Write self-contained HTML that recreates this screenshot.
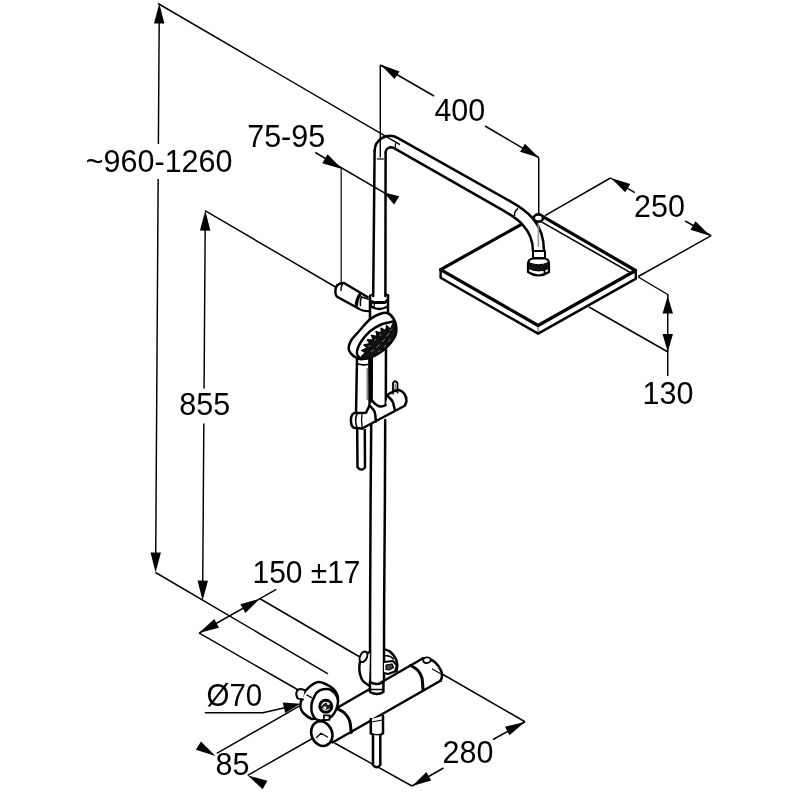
<!DOCTYPE html>
<html><head><meta charset="utf-8"><style>
html,body{margin:0;padding:0;background:#fff;width:800px;height:800px;overflow:hidden}
svg{display:block;will-change:transform}
text{font-family:"Liberation Sans",sans-serif;fill:#000}
</style></head><body>
<svg width="800" height="800" viewBox="0 0 800 800">
<rect width="800" height="800" fill="#fff"/>
<line x1="159.1927065026362" y1="20" x2="158.38637961335678" y2="144" stroke="#000" stroke-width="1.45" />
<line x1="158.15878734622146" y1="179" x2="155.71379613356766" y2="555" stroke="#000" stroke-width="1.45" />
<path d="M159.30,3.50 L164.37,23.53 L153.97,23.47 Z" fill="#000"/>
<path d="M155.60,572.50 L150.53,552.47 L160.93,552.53 Z" fill="#000"/>
<line x1="158" y1="3.5" x2="400" y2="144.6" stroke="#000" stroke-width="1.45" />
<line x1="155.6" y1="572.5" x2="328" y2="673.8" stroke="#000" stroke-width="1.45" />
<text x="85.8" y="171.5" font-size="30.5">~960-1260</text>
<line x1="205.2003076923077" y1="225" x2="204.06838461538462" y2="388.5" stroke="#000" stroke-width="1.45" />
<line x1="203.82607692307693" y1="423.5" x2="202.708" y2="585" stroke="#000" stroke-width="1.45" />
<path d="M205.30,210.60 L210.36,230.64 L199.96,230.56 Z" fill="#000"/>
<path d="M202.60,600.60 L197.54,580.56 L207.94,580.64 Z" fill="#000"/>
<line x1="205" y1="210.6" x2="335.5" y2="287" stroke="#000" stroke-width="1.45" />
<text x="179.3" y="415" font-size="30.5">855</text>
<line x1="341.25" y1="168.75" x2="341.25" y2="290" stroke="#333" stroke-width="1.45" />
<line x1="315.25" y1="152.5" x2="393" y2="197.8" stroke="#000" stroke-width="1.45" />
<path d="M342.00,169.00 L322.26,163.23 L327.60,154.31 Z" fill="#000"/>
<path d="M384.00,192.50 L399.28,196.36 L394.13,204.58 Z" fill="#000"/>
<text x="247.2" y="146.5" font-size="30.5">75-95</text>
<line x1="380.3" y1="65" x2="380.3" y2="157.5" stroke="#000" stroke-width="1.45" />
<line x1="380.3" y1="65" x2="434" y2="96" stroke="#000" stroke-width="1.45" />
<line x1="485" y1="126" x2="538.75" y2="157.5" stroke="#000" stroke-width="1.45" />
<path d="M380.50,64.50 L399.52,71.40 L394.49,79.11 Z" fill="#000"/>
<path d="M539.00,157.75 L520.06,151.77 L524.93,143.73 Z" fill="#000"/>
<line x1="538.75" y1="157.5" x2="538.75" y2="213.75" stroke="#000" stroke-width="1.45" />
<text x="434.4" y="121" font-size="30.5">400</text>
<line x1="545" y1="215.6" x2="610.4" y2="178" stroke="#000" stroke-width="1.45" />
<line x1="638.25" y1="276.5" x2="711.2" y2="235.7" stroke="#000" stroke-width="1.45" />
<line x1="610.4" y1="178" x2="634.8" y2="192.6" stroke="#000" stroke-width="1.45" />
<line x1="685.2" y1="221" x2="711.2" y2="235.7" stroke="#000" stroke-width="1.45" />
<path d="M611.00,178.00 L630.25,184.09 L625.19,192.37 Z" fill="#000"/>
<path d="M710.50,236.00 L690.46,229.79 L695.47,221.37 Z" fill="#000"/>
<text x="634.1" y="217" font-size="30.5">250</text>
<line x1="638.25" y1="277" x2="668.5" y2="295" stroke="#000" stroke-width="1.45" />
<line x1="589" y1="307" x2="668" y2="352" stroke="#000" stroke-width="1.45" />
<line x1="667.75" y1="295" x2="667.75" y2="376" stroke="#000" stroke-width="1.45" />
<path d="M667.75,296.00 L672.95,313.50 L662.55,313.50 Z" fill="#000"/>
<path d="M667.75,352.00 L662.55,334.00 L672.95,334.00 Z" fill="#000"/>
<text x="642.6" y="403.5" font-size="30.5">130</text>
<line x1="199.4" y1="633" x2="276.25" y2="589.4" stroke="#000" stroke-width="1.45" />
<path d="M198.90,632.90 L214.29,619.04 L218.99,627.87 Z" fill="#000"/>
<path d="M259.75,598.75 L245.44,612.91 L240.39,604.27 Z" fill="#000"/>
<line x1="198.9" y1="632.9" x2="300" y2="691" stroke="#000" stroke-width="1.45" />
<line x1="260" y1="598.75" x2="359" y2="656.5" stroke="#000" stroke-width="1.45" />
<text transform="translate(252.5 582.7) scale(0.981 1)" font-size="30.5">150 ±17</text>
<path d="M205.4,712.75 L263,712.75 L290,706.5" stroke="#000" stroke-width="1.45" fill="none" stroke-linejoin="round" stroke-linecap="round"/>
<path d="M300.50,703.80 L285.24,713.10 L282.69,702.40 Z" fill="#000"/>
<text transform="translate(206.5 705.6) scale(0.967 1)" font-size="30.5">Ø70</text>
<line x1="216.8" y1="753.4" x2="300.5" y2="705.4" stroke="#000" stroke-width="1.45" />
<line x1="247.7" y1="775.3" x2="311.9" y2="738.75" stroke="#000" stroke-width="1.45" />
<path d="M215.50,756.00 L195.87,749.79 L200.96,741.42 Z" fill="#000"/>
<path d="M247.50,775.30 L267.32,780.80 L262.67,789.19 Z" fill="#000"/>
<text x="215.6" y="775" font-size="30.5">85</text>
<line x1="433.5" y1="669" x2="525" y2="721.75" stroke="#000" stroke-width="1.45" />
<line x1="334.5" y1="743" x2="412" y2="786" stroke="#000" stroke-width="1.45" />
<line x1="412" y1="786" x2="443.5" y2="768" stroke="#000" stroke-width="1.45" />
<line x1="493" y1="739.5" x2="525" y2="721.75" stroke="#000" stroke-width="1.45" />
<path d="M412.25,786.00 L426.31,772.06 L431.25,780.41 Z" fill="#000"/>
<path d="M525.00,722.00 L509.44,735.33 L505.06,726.67 Z" fill="#000"/>
<text x="442.5" y="763" font-size="30.5">280</text>
<path d="M374.6,151 L373.2,296" stroke="#000" stroke-width="2.5" fill="none" stroke-linejoin="round" stroke-linecap="round"/>
<path d="M371.8,358 L371.5,404" stroke="#000" stroke-width="2.5" fill="none" stroke-linejoin="round" stroke-linecap="round"/>
<path d="M371.2,424 L370.6,500 L370.1,610 L370,686" stroke="#000" stroke-width="2.5" fill="none" stroke-linejoin="round" stroke-linecap="round"/>
<path d="M385.6,152.6 L385.4,296" stroke="#000" stroke-width="2.5" fill="none" stroke-linejoin="round" stroke-linecap="round"/>
<path d="M386,340 L385.8,407" stroke="#000" stroke-width="2.5" fill="none" stroke-linejoin="round" stroke-linecap="round"/>
<path d="M385.2,420 L384.9,500 L384.1,610 L384,686" stroke="#000" stroke-width="2.5" fill="none" stroke-linejoin="round" stroke-linecap="round"/>
<path d="M374.6,151 A15.4,15.4 0 0 1 397.5,137.8 L510,201.1 C526,210.2 544,222 544,251" stroke="#000" stroke-width="2.5" fill="none" stroke-linejoin="round" stroke-linecap="round"/>
<path d="M385.6,152.6 A5.4,5.4 0 0 1 393.6,147.9 L500,208.6 C516,217.6 533,228 533,251" stroke="#000" stroke-width="2.5" fill="none" stroke-linejoin="round" stroke-linecap="round"/>
<line x1="376.9" y1="159" x2="383.8" y2="159" stroke="#000" stroke-width="1.2" />
<path d="M395.6,143.6 L395.2,147.6" stroke="#000" stroke-width="1.2" fill="none" stroke-linejoin="round" stroke-linecap="round"/>
<path d="M517.5,208.8 Q514.5,211 514.4,215.8" stroke="#000" stroke-width="1.5" fill="none" stroke-linejoin="round" stroke-linecap="round"/>
<line x1="538.4" y1="224" x2="538.4" y2="247" stroke="#999" stroke-width="1.6" />
<path d="M521,224.6 L440.6,269.6 L538.1,325.5 L635.6,270.5 L542.5,216.4" stroke="#000" stroke-width="3.2" fill="none" stroke-linejoin="round" stroke-linecap="round"/>
<path d="M440.6,269.6 L440.6,277.8 L538.1,333.6 L636,278.6 L635.6,270.5" stroke="#000" stroke-width="2.4" fill="none" stroke-linejoin="round" stroke-linecap="round"/>
<line x1="538.1" y1="327.0" x2="538.1" y2="332.1" stroke="#888" stroke-width="1.5" />
<line x1="541" y1="221.6" x2="630" y2="272.4" stroke="#000" stroke-width="1.6" />
<ellipse cx="538.4" cy="218" rx="4.6" ry="3.6" fill="#fff" stroke="#000" stroke-width="2.6"/>
<path d="M533,251 L545,251 L545,258 L533,258 Z" stroke="#000" stroke-width="2" fill="#fff" stroke-linejoin="round" stroke-linecap="round"/>
<path d="M528,264 Q528,259 533,258.5 L545,258.5 Q549,259 549,264 L549,272 Q538.5,279 528,272 Z" stroke="#000" stroke-width="2.2" fill="#fff" stroke-linejoin="round" stroke-linecap="round"/>
<path d="M528.5,262.5 Q538.5,267 548.5,262.5 L548.5,268.5 Q538.5,273.5 528.5,268.5 Z" stroke="#000" stroke-width="1" fill="#111" stroke-linejoin="round" stroke-linecap="round"/>
<line x1="544.5" y1="267" x2="544.5" y2="274" stroke="#000" stroke-width="1.8" />
<path d="M344,283 L367.5,297 L370,300 L370,311.5 L358.5,308.5 L338.5,297.5 Q335.5,296.5 335.4,292 Q335.3,287 337.5,285 Q340,283 344,283 Z" stroke="#000" stroke-width="0" fill="#fff" stroke-linejoin="round" stroke-linecap="round"/>
<path d="M344,283 L367.5,297" stroke="#000" stroke-width="2.5" fill="none" stroke-linejoin="round" stroke-linecap="round"/>
<path d="M358.5,308.5 L338.5,297.5 Q335.5,296.5 335.4,292 Q335.3,287 337.5,285 Q340,283 344,283" stroke="#000" stroke-width="2.5" fill="none" stroke-linejoin="round" stroke-linecap="round"/>
<path d="M342.3,284.5 Q340.8,286.5 341,290.5" stroke="#000" stroke-width="1.3" fill="none" stroke-linejoin="round" stroke-linecap="round"/>
<path d="M359.8,294.6 Q356.5,299.5 356.3,305.8" stroke="#000" stroke-width="3.2" fill="none" stroke-linejoin="round" stroke-linecap="round"/>
<path d="M358.5,308.5 Q362,311.2 368.8,311.2" stroke="#000" stroke-width="2.2" fill="none" stroke-linejoin="round" stroke-linecap="round"/>
<path d="M361.3,297 Q360,301 360.4,305.5" stroke="#000" stroke-width="1.5" fill="none" stroke-linejoin="round" stroke-linecap="round"/>
<path d="M361.5,297 L368,299" stroke="#000" stroke-width="1.8" fill="none" stroke-linejoin="round" stroke-linecap="round"/>
<path d="M370,296 L370,319" stroke="#000" stroke-width="2.5" fill="none" stroke-linejoin="round" stroke-linecap="round"/>
<path d="M388,295.5 L388,314" stroke="#000" stroke-width="2.5" fill="none" stroke-linejoin="round" stroke-linecap="round"/>
<path d="M371.5,301.5 Q373,302.6 375,302.4 L385,302.4 Q386.5,302 387,300.5" stroke="#000" stroke-width="3" fill="none" stroke-linejoin="round" stroke-linecap="round"/>
<path d="M371.8,307 Q379,311 386.5,307" stroke="#000" stroke-width="2.3" fill="none" stroke-linejoin="round" stroke-linecap="round"/>
<path d="M370,296 Q370.8,294.5 372,294.3 M388,295.5 Q387.5,294.6 386.2,294.3" stroke="#000" stroke-width="1.8" fill="none" stroke-linejoin="round" stroke-linecap="round"/>
<path d="M371.6,303.5 L371.6,306.5 L374.2,306.5 L374.2,303.5" stroke="#000" stroke-width="1.2" fill="none" stroke-linejoin="round" stroke-linecap="round"/>
<path d="M388.00,313.25 C385.62,312.33 382.75,313.00 379.75,314.00 C376.75,315.00 373.50,316.33 370.00,319.25 C366.50,322.17 361.88,328.00 358.75,331.50 C355.62,335.00 352.94,337.42 351.25,340.25 C349.56,343.08 348.60,346.23 348.60,348.50 C348.60,350.77 350.02,352.40 351.25,353.90 C352.48,355.40 354.25,356.62 356.00,357.50 C357.75,358.38 358.79,359.45 361.75,359.20 C364.71,358.95 370.12,357.53 373.75,356.00 C377.38,354.47 380.62,352.25 383.50,350.00 C386.38,347.75 389.00,345.00 391.00,342.50 C393.00,340.00 394.62,337.50 395.50,335.00 C396.38,332.50 396.55,330.08 396.30,327.50 C396.05,324.92 395.38,321.88 394.00,319.50 C392.62,317.12 390.38,314.17 388.00,313.25 Z" stroke="#000" stroke-width="2.5" fill="#fff" stroke-linejoin="round" stroke-linecap="round"/>
<path d="M393.00,321.50 C391.04,322.00 385.08,322.88 381.25,324.50 C377.42,326.12 373.38,328.38 370.00,331.25 C366.62,334.12 363.12,338.62 361.00,341.75 C358.88,344.88 357.83,347.75 357.25,350.00 C356.67,352.25 356.88,353.82 357.50,355.25 C358.12,356.68 360.42,358.04 361.00,358.60" stroke="#000" stroke-width="2.5" fill="none" stroke-linejoin="round" stroke-linecap="round"/>
<path d="M392.50,324.20 L390.52,329.12 L386.54,325.48 L385.68,330.71 L381.01,328.02 L381.17,333.14 L375.94,331.36 L377.15,336.29 L371.31,335.30 L373.38,339.74 L367.19,339.79 L369.93,343.53 L363.95,344.95 L367.24,347.87 L361.54,350.52 L365.24,352.55 L361.50,356.50 L362.50,358.60 L366.00,359.50 L373.75,356.60 L383.50,350.60 L391.00,343.00 L395.50,335.00 L396.40,328.00 L394.50,322.50 Z" fill="#111" stroke="#000" stroke-width="1.2" stroke-linejoin="round"/>
<line x1="371" y1="352" x2="374" y2="349.5" stroke="#777" stroke-width="1.0" />
<line x1="376.5" y1="347.5" x2="379.5" y2="344.5" stroke="#777" stroke-width="1.0" />
<line x1="382" y1="342" x2="385" y2="339" stroke="#777" stroke-width="1.0" />
<line x1="386.5" y1="336.5" x2="389.5" y2="333" stroke="#777" stroke-width="1.0" />
<line x1="389.5" y1="331" x2="392" y2="328.5" stroke="#777" stroke-width="1.0" />
<line x1="378" y1="352" x2="380" y2="350" stroke="#777" stroke-width="1.0" />
<line x1="384" y1="347" x2="386" y2="345" stroke="#777" stroke-width="1.0" />
<line x1="388.5" y1="341.5" x2="390.5" y2="339" stroke="#777" stroke-width="1.0" />
<line x1="374" y1="341" x2="376" y2="339" stroke="#777" stroke-width="1.0" />
<line x1="379.5" y1="336" x2="381.5" y2="334" stroke="#777" stroke-width="1.0" />
<line x1="368.5" y1="347" x2="370.5" y2="345" stroke="#777" stroke-width="1.0" />
<path d="M357,359 L356,413.5" stroke="#000" stroke-width="2.5" fill="none" stroke-linejoin="round" stroke-linecap="round"/>
<path d="M370.2,359.5 L370.4,404" stroke="#000" stroke-width="4.2" fill="none" stroke-linejoin="round" stroke-linecap="round"/>
<path d="M357.2,363.8 Q362,365.5 367.5,364.5" stroke="#000" stroke-width="1.6" fill="none" stroke-linejoin="round" stroke-linecap="round"/>
<line x1="367.2" y1="368" x2="367.3" y2="400" stroke="#888" stroke-width="1.6" />
<path d="M366,412.8 L369.5,405.5 L372.5,401 L379,409.5 L385.8,405 L387.7,394.5 L394.25,391.2 L399.5,390.2 L404.3,393.8 L406.5,400.5 L404.75,405.75 L362,428.5 L355,428 L351,420.5 L355,413 Z" fill="#fff" stroke="none"/>
<path d="M372.5,401 Q379,409.5 385.8,405" stroke="#000" stroke-width="2.4" fill="none" stroke-linejoin="round" stroke-linecap="round"/>
<path d="M393,393.5 L393,383 Q395.2,379.5 397.5,383 L397.5,392.5" stroke="#000" stroke-width="1.8" fill="#fff" stroke-linejoin="round" stroke-linecap="round"/>
<line x1="395.2" y1="383.5" x2="395.2" y2="391" stroke="#888" stroke-width="1.4" />
<path d="M387.70,394.50 C388.79,393.95 392.28,391.92 394.25,391.20 C396.22,390.48 397.82,389.77 399.50,390.20 C401.18,390.63 403.13,392.08 404.30,393.80 C405.47,395.52 406.43,398.51 406.50,400.50 C406.57,402.49 405.04,404.88 404.75,405.75 L362,428.5" stroke="#000" stroke-width="2.5" fill="none" stroke-linejoin="round" stroke-linecap="round"/>
<path d="M387.70,396.00 C388.50,396.90 391.33,399.15 392.50,401.40 C393.67,403.65 394.33,408.15 394.70,409.50" stroke="#000" stroke-width="2.5" fill="none" stroke-linejoin="round" stroke-linecap="round"/>
<path d="M369.50,405.50 C370.33,406.50 373.43,408.83 374.50,411.50 C375.57,414.17 375.67,419.83 375.90,421.50" stroke="#000" stroke-width="2.5" fill="none" stroke-linejoin="round" stroke-linecap="round"/>
<path d="M369.5,405.5 L366,412.8 L355,413 Q351,413.3 350.9,420.5 Q351,427.6 355,428 L362.5,428.4" stroke="#000" stroke-width="2.5" fill="none" stroke-linejoin="round" stroke-linecap="round"/>
<path d="M357,413.6 Q354.3,420.5 357,427.6" stroke="#000" stroke-width="1.6" fill="none" stroke-linejoin="round" stroke-linecap="round"/>
<path d="M362,413.5 Q361,420.5 362.3,428" stroke="#000" stroke-width="1.3" fill="none" stroke-linejoin="round" stroke-linecap="round"/>
<path d="M357.2,430 L357.5,467 Q361,472 365,467.5 L364.8,430" stroke="#000" stroke-width="2.5" fill="#fff" stroke-linejoin="round" stroke-linecap="round"/>
<path d="M370.00,652.00 C368.67,652.67 363.77,653.67 362.00,656.00 C360.23,658.33 359.73,663.00 359.40,666.00 C359.07,669.00 359.40,671.50 360.00,674.00 C360.60,676.50 361.50,679.08 363.00,681.00 C364.50,682.92 368.00,684.75 369.00,685.50" stroke="#000" stroke-width="2.5" fill="#fff" stroke-linejoin="round" stroke-linecap="round"/>
<ellipse cx="363.5" cy="656.8" rx="3.4" ry="5.6" transform="rotate(25 363.5 656.8)" fill="#fff" stroke="#000" stroke-width="2"/>
<path d="M384.00,649.20 C385.08,649.67 388.54,650.41 390.50,652.00 C392.46,653.59 394.62,656.62 395.75,658.75 C396.88,660.88 397.12,662.71 397.25,664.75 C397.38,666.79 396.62,669.96 396.50,671.00" stroke="#000" stroke-width="2.5" fill="#fff" stroke-linejoin="round" stroke-linecap="round"/>
<path d="M384,662 L393,661 L397,665.5 L395,671.5 L388,674 L384,673" stroke="#000" stroke-width="2.2" fill="#fff" stroke-linejoin="round" stroke-linecap="round"/>
<path d="M386,665 L392,664 L393.5,667.5 L389,670 L386,669.5 Z" stroke="#000" stroke-width="1.2" fill="#444" stroke-linejoin="round" stroke-linecap="round"/>
<path d="M384.5,656 Q390,655 393.5,659" stroke="#000" stroke-width="1.4" fill="none" stroke-linejoin="round" stroke-linecap="round"/>
<path d="M336,708.5 L423,658.25 C431,658 438,663 441.75,672.5 C442.5,676 442,678.5 440.5,680.75 L332.5,742.5 L326,724 Z" stroke="#000" stroke-width="0" fill="#fff" stroke-linejoin="round" stroke-linecap="round"/>
<path d="M336,708.5 L423,658.25" stroke="#000" stroke-width="2.5" fill="none" stroke-linejoin="round" stroke-linecap="round"/>
<path d="M423,658.25 C431,658 438,663 441.75,672.5 C442.5,676 442,678.5 440.5,680.75" stroke="#000" stroke-width="2.5" fill="none" stroke-linejoin="round" stroke-linecap="round"/>
<path d="M440.5,680.75 L332.5,742.5" stroke="#000" stroke-width="2.5" fill="none" stroke-linejoin="round" stroke-linecap="round"/>
<path d="M336.50,708.30 C337.75,709.00 341.83,710.47 344.00,712.50 C346.17,714.53 348.30,717.17 349.50,720.50 C350.70,723.83 350.92,730.50 351.20,732.50" stroke="#000" stroke-width="3" fill="none" stroke-linejoin="round" stroke-linecap="round"/>
<path d="M410.50,665.50 C411.67,666.25 415.62,668.00 417.50,670.00 C419.38,672.00 420.88,674.17 421.80,677.50 C422.72,680.83 422.80,687.92 423.00,690.00" stroke="#000" stroke-width="3" fill="none" stroke-linejoin="round" stroke-linecap="round"/>
<ellipse cx="427" cy="660.2" rx="3.8" ry="2.8" transform="rotate(-10 427 660.2)" fill="#fff" stroke="#000" stroke-width="1.8"/>
<line x1="432" y1="668.8" x2="441" y2="674" stroke="#000" stroke-width="1.2" />
<path d="M370,682 L370,692 Q377,696 383.4,692 L383.4,682" stroke="#000" stroke-width="2.5" fill="#fff" stroke-linejoin="round" stroke-linecap="round"/>
<path d="M370,682 Q377,686 383.4,682" stroke="#000" stroke-width="2.4" fill="none" stroke-linejoin="round" stroke-linecap="round"/>
<path d="M371,689.5 L382.5,689.5" stroke="#000" stroke-width="1.4" fill="none" stroke-linejoin="round" stroke-linecap="round"/>
<path d="M370.8,719 L370.8,733.5 Q377,737 383,733.5 L383,716" stroke="#000" stroke-width="2.5" fill="#fff" stroke-linejoin="round" stroke-linecap="round"/>
<path d="M373,735 L373,765 Q376.5,769.5 380.3,765 L380.3,735.5" stroke="#000" stroke-width="2.5" fill="#fff" stroke-linejoin="round" stroke-linecap="round"/>
<line x1="371" y1="722" x2="382.5" y2="720" stroke="#000" stroke-width="1.2" />
<ellipse cx="321.8" cy="733.6" rx="10.3" ry="12.6" transform="rotate(-22 321.8 733.6)" fill="#fff" stroke="#000" stroke-width="2.6"/>
<path d="M316.5,737.5 L321,733.2 L327.5,737" stroke="#000" stroke-width="1.3" fill="none" stroke-linejoin="round" stroke-linecap="round"/>
<path d="M300.75,702.50 C301.17,700.08 302.00,696.43 303.25,694.00 C304.50,691.57 306.48,689.63 308.25,687.90 C310.02,686.17 312.12,684.58 313.90,683.60 C315.67,682.62 317.13,682.02 318.90,682.00 C320.67,681.98 322.32,682.53 324.50,683.50 C326.68,684.47 330.02,686.25 332.00,687.80 C333.98,689.35 335.43,691.18 336.40,692.80 C337.37,694.42 337.60,695.63 337.80,697.50 C338.00,699.37 338.47,701.12 337.60,704.00 C336.73,706.88 334.99,712.12 332.60,714.75 C330.21,717.38 326.06,719.08 323.25,719.75 C320.44,720.42 317.83,719.01 315.75,718.80 C313.67,718.59 312.73,719.38 310.75,718.50 C308.77,717.62 305.57,715.17 303.90,713.50 C302.23,711.83 301.27,710.33 300.75,708.50 C300.23,706.67 300.33,704.92 300.75,702.50 Z" stroke="#000" stroke-width="2.5" fill="#fff" stroke-linejoin="round" stroke-linecap="round"/>
<path d="M312.60,700.50 C313.53,698.23 315.23,694.27 317.00,692.40 C318.77,690.53 320.96,689.73 323.25,689.30 C325.54,688.87 328.46,688.55 330.75,689.80 C333.04,691.05 335.86,694.30 337.00,696.80 C338.14,699.30 338.33,701.72 337.60,704.80 C336.87,707.88 334.99,712.73 332.60,715.30 C330.21,717.87 326.06,719.58 323.25,720.20 C320.44,720.82 317.62,720.23 315.75,719.00 C313.88,717.77 312.73,714.97 312.00,712.80 C311.27,710.63 311.30,708.05 311.40,706.00 C311.50,703.95 311.67,702.77 312.60,700.50 Z" stroke="#000" stroke-width="2.5" fill="#fff" stroke-linejoin="round" stroke-linecap="round"/>
<line x1="306.4" y1="694.75" x2="312" y2="697.9" stroke="#000" stroke-width="1.4" />
<circle cx="325.8" cy="706.3" r="6" fill="#fff" stroke="#000" stroke-width="3"/>
<path d="M321.5,707.5 Q324,702 329,703.5 L330,707 Q327,711 321.5,707.5 Z" stroke="#000" stroke-width="1" fill="#222" stroke-linejoin="round" stroke-linecap="round"/>
<ellipse cx="324.8" cy="707.8" rx="1.6" ry="1.3" fill="#fff"/>
<ellipse cx="328.3" cy="703.8" rx="1.4" ry="1.1" fill="#fff"/>
<path d="M323.9,715.4 L329.5,715.4 L329.5,719.8 L323.9,719.8 Z" stroke="#000" stroke-width="1.8" fill="#fff" stroke-linejoin="round" stroke-linecap="round"/>
<path d="M304.50,690.00 C303.75,689.83 301.25,688.83 300.00,689.00 C298.75,689.17 297.60,690.00 297.00,691.00 C296.40,692.00 296.23,693.75 296.40,695.00 C296.57,696.25 296.90,697.75 298.00,698.50 C299.10,699.25 302.17,699.33 303.00,699.50" stroke="#000" stroke-width="2" fill="#fff" stroke-linejoin="round" stroke-linecap="round"/>
</svg>
</body></html>
